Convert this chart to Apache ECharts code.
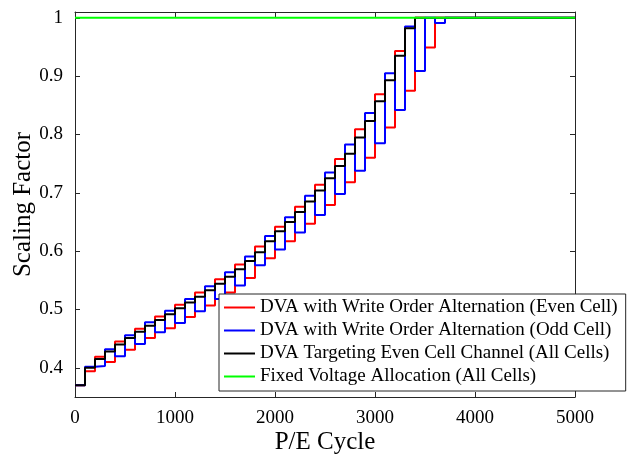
<!DOCTYPE html>
<html>
<head>
<meta charset="utf-8">
<script src="https://cdn.jsdelivr.net/npm/echarts@6/dist/echarts.min.js"></script>
<style>
  html, body { margin: 0; padding: 0; background: #ffffff; }
  #chart { width: 636px; height: 460px; }
</style>
</head>
<body>
<div id="chart"></div>
<script>
// P/E cycle at which each stair level starts (last point closes the run at 5000)
const cycles = [0, 100, 200, 300, 400, 500, 600, 700, 800, 900,
  1000, 1100, 1200, 1300, 1400, 1500, 1600, 1700, 1800, 1900,
  2000, 2100, 2200, 2300, 2400, 2500, 2600, 2700, 2800, 2900,
  3000, 3100, 3200, 3300, 3400, 3500, 3600, 3700, 5000];

// DVA with write order alternation, even cell
const evenCell = [0.370, 0.394, 0.419, 0.410, 0.445, 0.431, 0.467, 0.451, 0.488, 0.468,
  0.508, 0.487, 0.529, 0.507, 0.552, 0.529, 0.577, 0.554, 0.608, 0.588,
  0.642, 0.617, 0.676, 0.647, 0.714, 0.679, 0.758, 0.718, 0.809, 0.760,
  0.869, 0.812, 0.943, 0.875, 1.000, 0.949, 1.000, 1.000, 1.000];

// DVA with write order alternation, odd cell
const oddCell = [0.370, 0.402, 0.403, 0.432, 0.420, 0.456, 0.441, 0.478, 0.461, 0.498,
  0.477, 0.518, 0.497, 0.540, 0.518, 0.564, 0.541, 0.591, 0.576, 0.626,
  0.603, 0.658, 0.632, 0.695, 0.662, 0.735, 0.698, 0.783, 0.738, 0.837,
  0.785, 0.905, 0.842, 0.985, 0.909, 1.000, 0.991, 1.000, 1.000];

// DVA targeting the even cell channel, all cells
const targetEven = [0.370, 0.400, 0.415, 0.428, 0.440, 0.451, 0.462, 0.472, 0.482, 0.492,
  0.502, 0.512, 0.522, 0.533, 0.544, 0.556, 0.569, 0.583, 0.598, 0.617,
  0.634, 0.650, 0.667, 0.685, 0.704, 0.725, 0.746, 0.767, 0.795, 0.823,
  0.857, 0.893, 0.935, 0.982, 1.000, 1.000, 1.000, 1.000, 1.000];

// Fixed voltage allocation, all cells
const fixedCycles = [0, 5000];
const fixedAlloc = [1, 1];

const seriesNames = [
  'DVA with Write Order Alternation (Even Cell)',
  'DVA with Write Order Alternation (Odd Cell)',
  'DVA Targeting Even Cell Channel (All Cells)',
  'Fixed Voltage Allocation (All Cells)'
];

const pairs = (xs, ys) => xs.map((x, i) => [x, ys[i]]);

const serif = '"Liberation Serif", "Times New Roman", serif';
const axisColor = '#262626';

const chart = echarts.init(document.getElementById('chart'), null, { renderer: 'canvas' });

const tickStyle = { show: true, inside: true, length: 5, lineStyle: { color: axisColor, width: 1 } };
const lineStyleAxis = { show: true, onZero: false, lineStyle: { color: axisColor, width: 1 } };

chart.setOption({
  animation: false,
  backgroundColor: '#ffffff',
  grid: { left: 75, right: 61, top: 12, bottom: 63, containLabel: false, outerBoundsMode: 'none' },
  xAxis: [{
    type: 'value', min: 0, max: 5000, interval: 1000,
    name: 'P/E Cycle', nameLocation: 'middle', nameGap: 33, nameMoveOverlap: false,
    nameTextStyle: { fontFamily: serif, fontSize: 25, color: '#000' },
    axisLine: lineStyleAxis, axisTick: tickStyle,
    axisLabel: { fontFamily: serif, fontSize: 19, color: '#000', margin: 12, formatter: v => String(v) },
    splitLine: { show: false }
  }, {
    type: 'value', position: 'top', min: 0, max: 5000, interval: 1000,
    axisLine: lineStyleAxis, axisTick: tickStyle,
    axisLabel: { show: false }, splitLine: { show: false }
  }],
  yAxis: [{
    type: 'value', min: 0.35, max: 1.01,
    name: 'Scaling Factor', nameLocation: 'middle', nameGap: 39, nameMoveOverlap: false,
    nameTextStyle: { fontFamily: serif, fontSize: 25, color: '#000' },
    axisLine: lineStyleAxis, axisTick: tickStyle,
    axisLabel: {
      fontFamily: serif, fontSize: 19, color: '#000', margin: 12,
      showMinLabel: false, showMaxLabel: false,
      formatter: v => String(+v.toFixed(2))
    },
    splitLine: { show: false }
  }, {
    type: 'value', position: 'right', min: 0.35, max: 1.01,
    axisLine: lineStyleAxis, axisTick: tickStyle,
    axisLabel: { show: false }, splitLine: { show: false }
  }],
  legend: {
    orient: 'vertical', left: 219, top: 294,
    icon: 'rect', itemWidth: 31, itemHeight: 2, itemGap: 0,
    padding: [2, 8, 3, 5],
    backgroundColor: '#ffffff', borderColor: axisColor, borderWidth: 1, borderRadius: 0,
    textStyle: { fontFamily: serif, fontSize: 19, lineHeight: 23, color: '#000' },
    data: seriesNames
  },
  series: [
    { name: seriesNames[0], type: 'line', step: 'end', symbol: 'none', data: pairs(cycles, evenCell),
      lineStyle: { color: '#ff0000', width: 2 }, itemStyle: { color: '#ff0000' } },
    { name: seriesNames[1], type: 'line', step: 'end', symbol: 'none', data: pairs(cycles, oddCell),
      lineStyle: { color: '#0000ff', width: 2 }, itemStyle: { color: '#0000ff' } },
    { name: seriesNames[2], type: 'line', step: 'end', symbol: 'none', data: pairs(cycles, targetEven),
      lineStyle: { color: '#000000', width: 2 }, itemStyle: { color: '#000000' } },
    { name: seriesNames[3], type: 'line', symbol: 'none', data: pairs(fixedCycles, fixedAlloc),
      lineStyle: { color: '#00ff00', width: 2 }, itemStyle: { color: '#00ff00' } }
  ]
});
</script>
</body>
</html>
